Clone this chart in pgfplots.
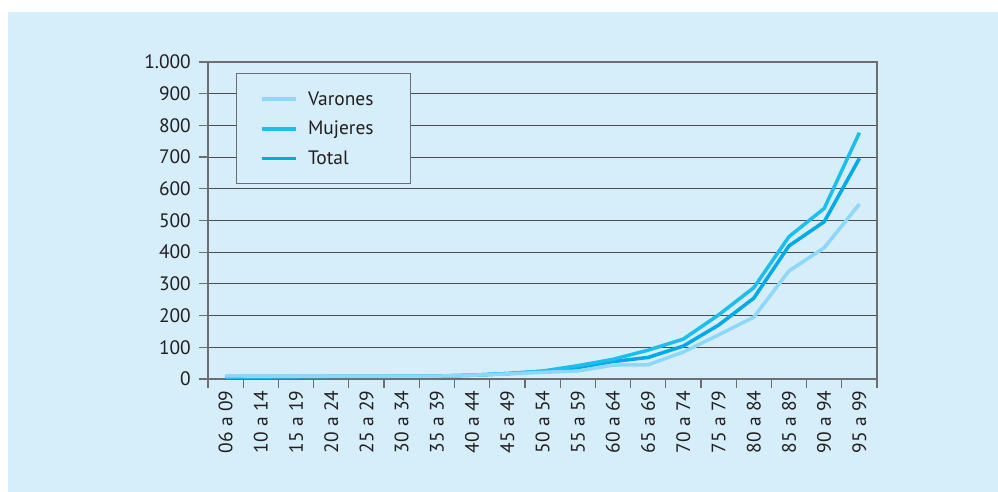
\documentclass[border=0pt]{standalone}
\usepackage{pgfplots}
\pgfplotsset{compat=1.18}
\usepackage{fontspec}
\setmainfont{PT Sans}
\definecolor{bgblue}{RGB}{214,237,250}
\definecolor{cVar}{RGB}{141,216,248}
\definecolor{cMuj}{RGB}{30,190,236}
\definecolor{cTot}{RGB}{0,170,232}
\definecolor{txt}{RGB}{35,31,32}
\definecolor{gridc}{RGB}{75,75,75}
\definecolor{axc}{RGB}{110,110,112}
\begin{document}
\begin{tikzpicture}
\fill[white] (0bp,0bp) rectangle (998bp,492bp);
\fill[bgblue] (8bp,0bp) rectangle (998bp,480bp);
\begin{axis}[
  at={(208bp,113bp)}, anchor=south west,
  scale only axis, width=669bp, height=317bp,
  xmin=-0.5, xmax=18.5, ymin=0, ymax=1000,
  ytick={0,100,...,1000},
  xtick={0,...,18},
  xticklabels={06 a 09,10 a 14,15 a 19,20 a 24,25 a 29,30 a 34,35 a 39,40 a 44,45 a 49,50 a 54,55 a 59,60 a 64,65 a 69,70 a 74,75 a 79,80 a 84,85 a 89,90 a 94,95 a 99},
  minor xtick={-0.5,0.5,...,18.5},
  tick align=outside,
  major tick length=9bp, minor tick length=9bp,
  xtick pos=bottom, ytick pos=left,
  xtick style={draw=none},
  minor x tick style={draw=axc, line width=1.2bp},
  ytick style={draw=axc, line width=1.2bp},
  axis line style={draw=axc, line width=1.2bp},
  ymajorgrids, grid style={draw=gridc, line width=1bp},
  tick label style={font=\fontsize{19.5}{23}\selectfont, text=txt},
  xticklabel style={rotate=90, anchor=east, inner sep=2.5bp},
  yticklabel style={inner sep=8bp},
  /pgf/number format/.cd, 1000 sep={.}, assume math mode=true, /pgfplots/.cd,
  legend style={at={(0.042,0.965)}, anchor=north west, draw=axc, line width=1bp,
    fill=bgblue, inner xsep=24bp, inner ysep=16bp, row sep=10.5bp, column sep=8bp,
    font=\fontsize{19.5}{23}\selectfont, text=txt},
  legend cell align=left,
  legend image code/.code={\draw[#1, line width=3.5bp] (0bp,0bp) -- (34bp,0bp);},
  every axis plot/.append style={line width=3.5bp, line join=round},
]
\addplot[cTot, forget plot] coordinates {(0,8)(1,8)(2,8)(3,8)(4,8)(5,9)(6,9)(7,12)(8,17)(9,24)(10,36)(11,55)(12,68)(13,104)(14,170)(15,255)(16,420)(17,496)(18,696)};
\addplot[cMuj, forget plot] coordinates {(0,6)(1,6)(2,7)(3,8)(4,8)(5,8)(6,9)(7,12)(8,17)(9,25)(10,42)(11,62)(12,91)(13,126)(14,202)(15,288)(16,449)(17,538)(18,777)};
\addplot[cVar, forget plot] coordinates {(0,10)(1,9)(2,9)(3,9)(4,9)(5,9)(6,9)(7,12)(8,16)(9,21)(10,25)(11,44)(12,45)(13,85)(14,139)(15,195)(16,341)(17,414)(18,552)};
\addlegendimage{cVar}
\addlegendentry{\makebox[76bp][l]{Varones}}
\addlegendimage{cMuj}
\addlegendentry{\makebox[76bp][l]{Mujeres}}
\addlegendimage{cTot}
\addlegendentry{\makebox[76bp][l]{Total}}
\end{axis}
\pgfresetboundingbox
\useasboundingbox (0bp,0bp) rectangle (998bp,492bp);
\end{tikzpicture}
\end{document}
